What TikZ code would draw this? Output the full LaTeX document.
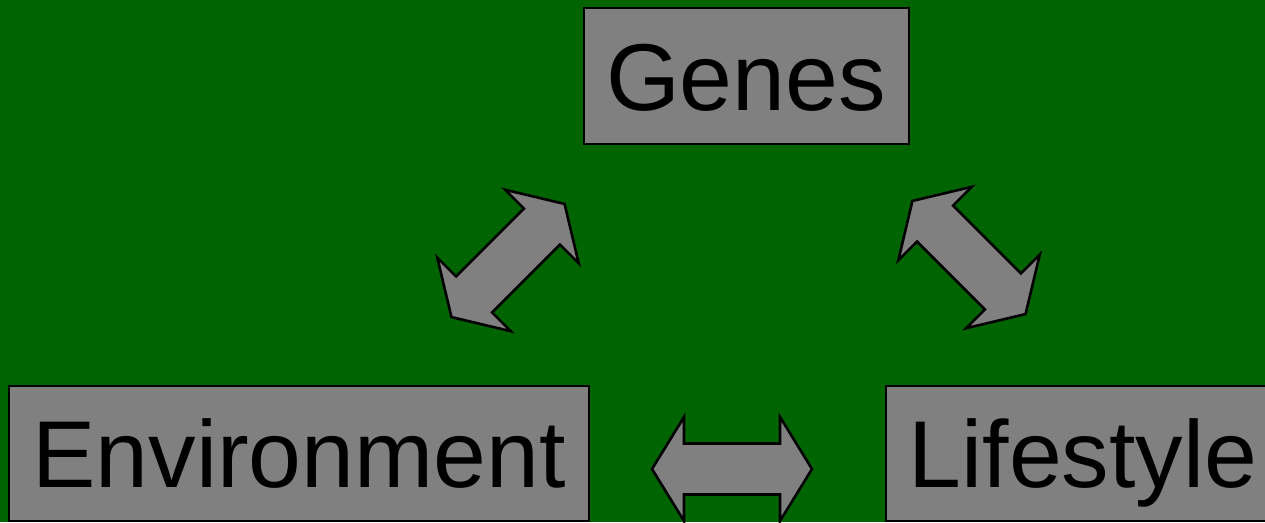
\documentclass[tikz,border=0pt]{standalone}
\usepackage{fontspec}
\setmainfont{Liberation Sans}
\definecolor{bggreen}{RGB}{0,100,0}
\definecolor{boxgray}{RGB}{128,128,128}
\tikzset{
  labelbox/.style={draw=black, line width=2pt, fill=boxgray, rectangle,
    inner sep=0pt, minimum height=135pt, text height=68pt, text depth=0pt,
    font=\fontsize{95}{95}\selectfont, text=black},
  dblarrow/.style={draw=black, line width=2.6pt, fill=boxgray, line join=miter}
}
\newcommand{\mydblarrow}[2]{%
  \begin{scope}[shift={#1}, rotate=#2]
    \path[dblarrow] (80,0) -- (48,52) -- (48,25.5) -- (-48,25.5) -- (-48,52)
      -- (-80,0) -- (-48,-52) -- (-48,-25.5) -- (48,-25.5) -- (48,-52) -- cycle;
  \end{scope}}
\begin{document}
\begin{tikzpicture}[x=1pt, y=-1pt]
  \useasboundingbox (0,0) rectangle (1265,522);
  \clip (0,0) rectangle (1265,522);
  \fill[bggreen] (0,0) rectangle (1265,522);
  \node[labelbox, minimum width=325pt, minimum height=136pt] (genes) at (746,76) {Genes};
  \node[labelbox, minimum width=580pt] (env) at (299,453.5) {Environment};
  \node[labelbox, minimum width=394pt] (life) at (1083,453.5) {Lifestyle};
  \mydblarrow{(508,260.5)}{45}
  \mydblarrow{(969,257.5)}{-45}
  \mydblarrow{(732,469)}{0}
\end{tikzpicture}
\end{document}
